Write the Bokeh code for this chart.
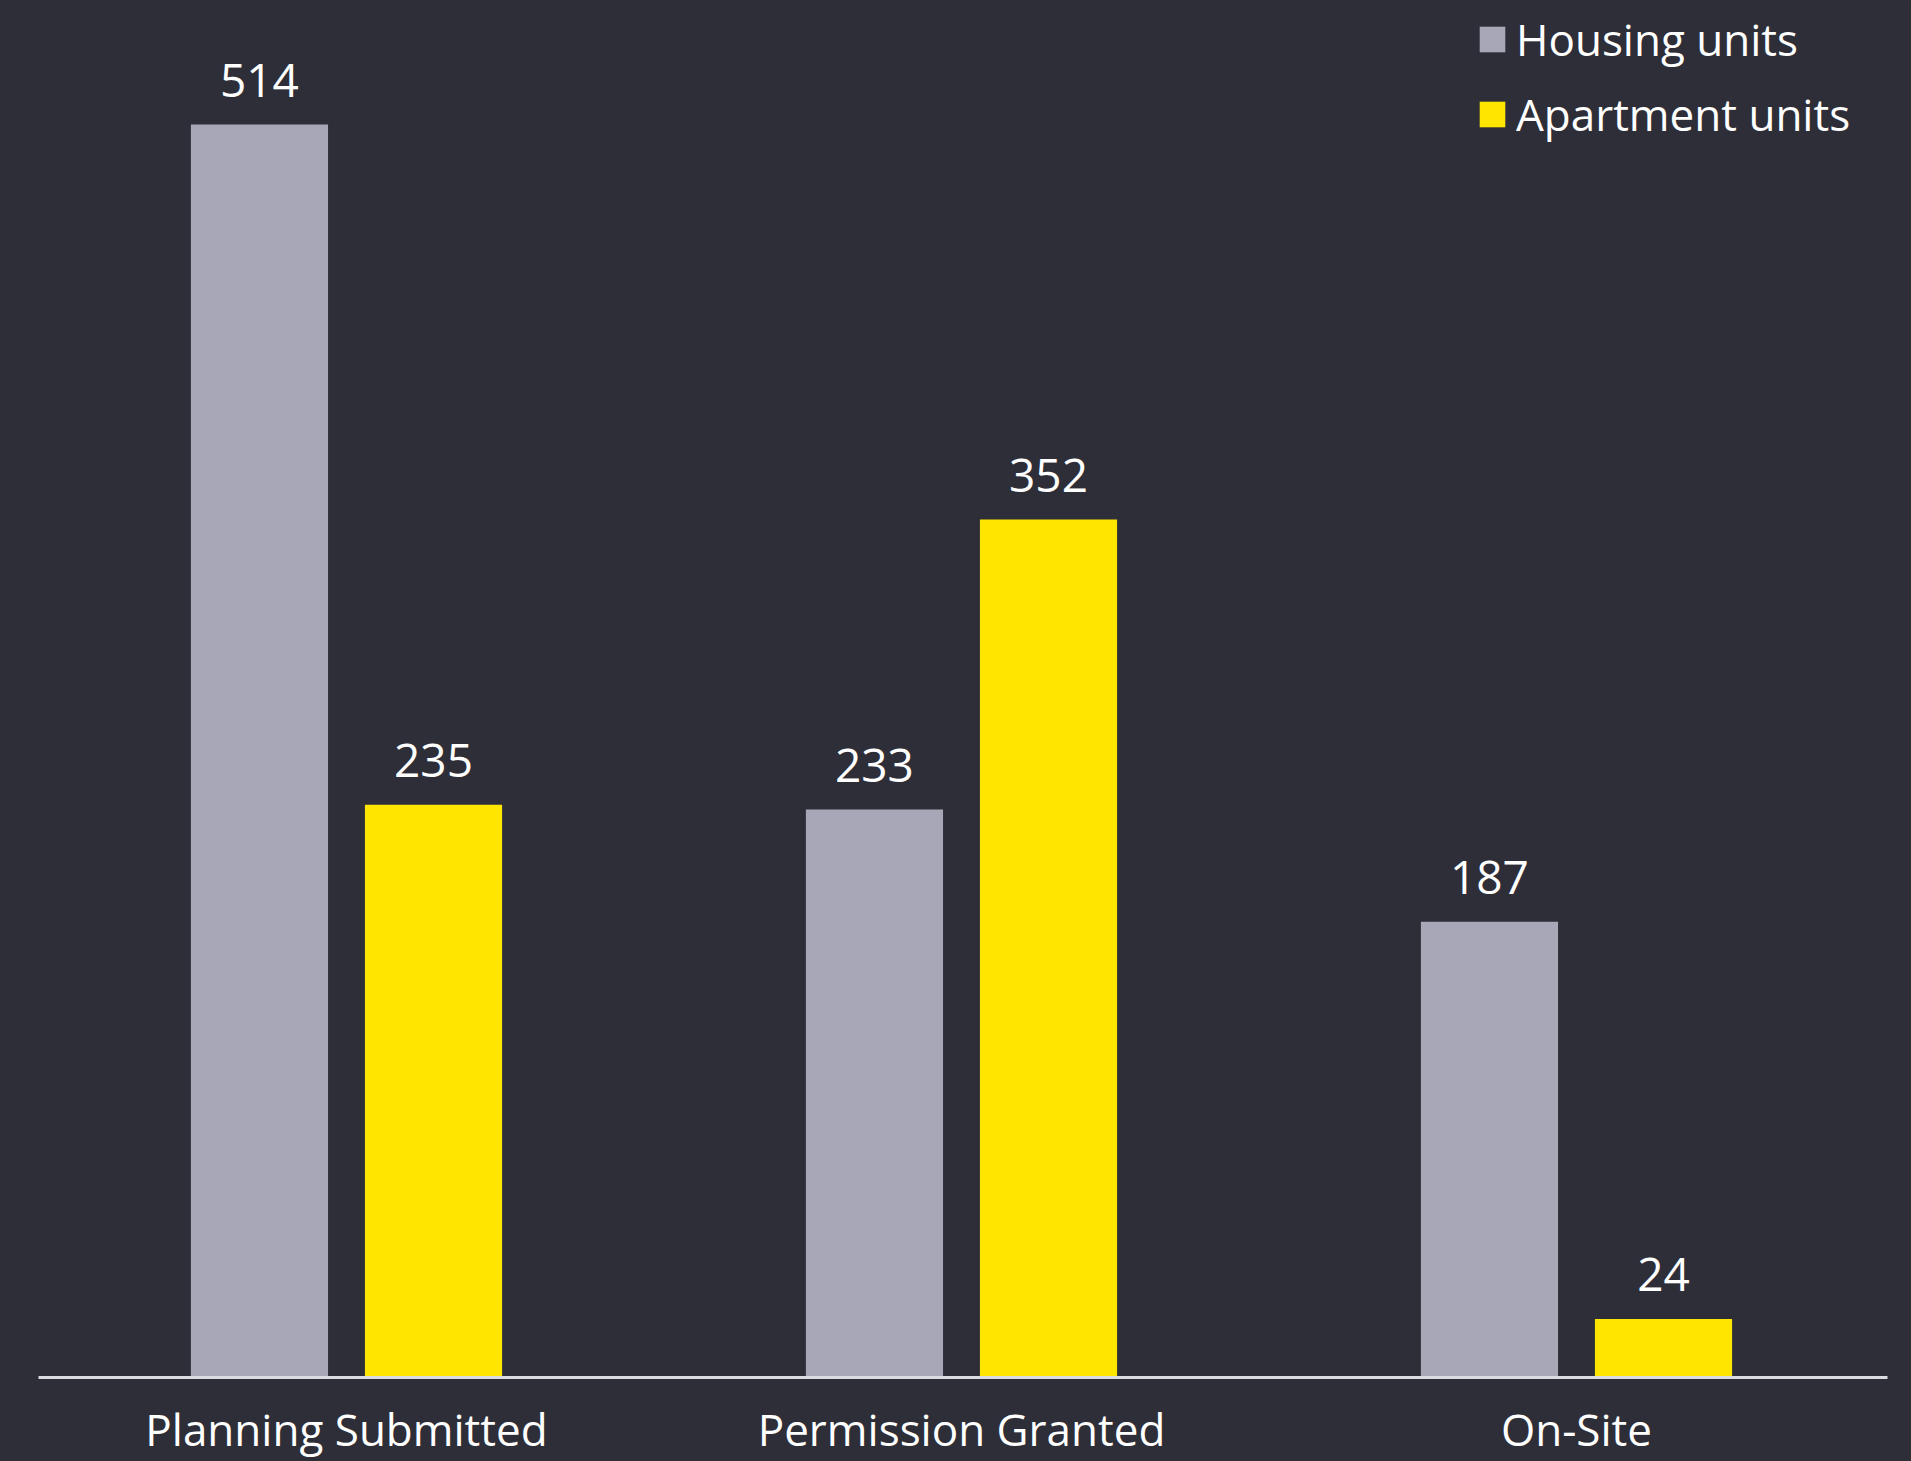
from bokeh.plotting import figure
from bokeh.models import Range1d, FixedTicker, ColumnDataSource, Legend, LegendItem
from bokeh.transform import dodge
from bokeh.core.properties import value
from bokeh.embed import file_html
from bokeh.resources import INLINE

# ---- data ----
categories = ["Planning Submitted", "Permission Granted", "On-Site"]
series_names = ["Housing units", "Apartment units"]
housing_units = [514, 233, 187]
apartment_units = [235, 352, 24]

# ---- style ----
BG = "#2E2E38"
GRAY = "#A7A7B7"
YELLOW = "#FFE600"
FONT = "Open Sans"
BAR_W = 0.223
OFF = 0.1415

W, H = 1911, 1461
p = figure(width=W, height=H, output_backend="svg", toolbar_location=None,
           x_range=Range1d(-0.5008, 2.5057), y_range=Range1d(0, 564.9),
           y_axis_location=None,
           min_border_left=38, min_border_right=24, min_border_top=0, min_border_bottom=84)
p.background_fill_color = BG
p.border_fill_color = BG
p.outline_line_color = None
p.grid.visible = False

xs = list(range(len(categories)))
src = ColumnDataSource(dict(
    x=xs,
    housing=housing_units,
    apartment=apartment_units,
    hl=[str(v) for v in housing_units],
    al=[str(v) for v in apartment_units],
))

r1 = p.vbar(x=dodge("x", -OFF), top="housing", width=BAR_W, source=src,
            fill_color=GRAY, line_color=None)
r2 = p.vbar(x=dodge("x", OFF), top="apartment", width=BAR_W, source=src,
            fill_color=YELLOW, line_color=None)

for col, lab, d in (("housing", "hl", -OFF), ("apartment", "al", OFF)):
    p.text(x=dodge("x", d), y=col, text=lab, source=src,
           text_align="center", text_baseline="alphabetic", y_offset=-44,
           text_font=value(FONT), text_font_size="46px", text_color="white")

ax = p.xaxis[0]
ax.ticker = FixedTicker(ticks=xs)
ax.major_label_overrides = {i: c for i, c in zip(xs, categories)}
ax.major_tick_line_color = None
ax.minor_tick_line_color = None
ax.axis_line_color = "#DCDCE2"
ax.axis_line_width = 3
ax.major_label_standoff = 15
ax.major_label_text_font = FONT
ax.major_label_text_font_size = "44px"
ax.major_label_text_color = "white"

legend = Legend(items=[LegendItem(label=series_names[0], renderers=[r1]),
                       LegendItem(label=series_names[1], renderers=[r2])],
                location=(1438, 1233), orientation="vertical",
                glyph_width=32, glyph_height=32, label_standoff=8,
                label_height=60, spacing=15, padding=0, margin=0,
                label_text_font=FONT, label_text_font_size="44px",
                label_text_color="white",
                background_fill_alpha=0, border_line_alpha=0)
p.add_layout(legend)

html = file_html(p, INLINE)
html = html.replace("</head>",
                    "<style>html,body{background:%s;margin:0;}</style></head>" % BG, 1)
open("out.html", "w").write(html)
